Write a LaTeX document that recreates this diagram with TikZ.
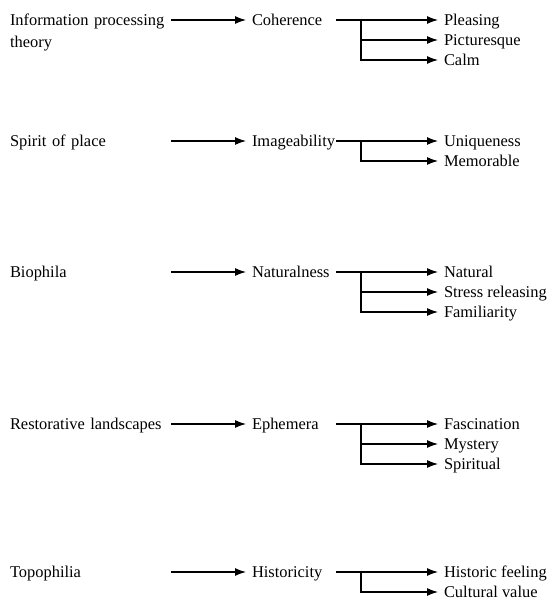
\documentclass[tikz,border=0pt]{standalone}
\usepackage{fontspec}
\setmainfont{Liberation Serif}
\usetikzlibrary{arrows.meta}

\tikzset{
  lbl/.style={inner sep=0pt, outer sep=0pt, anchor=west, text height=11.4bp, text depth=0pt,
    font=\fontsize{16.5}{21.5}\selectfont},
  src/.style={lbl, text width=161bp, align=left},
  mid/.style={lbl, text width=84bp, align=left},
  arr/.style={-{Latex[length=11bp,width=8bp]}, line width=1.1bp, shorten >=6bp},
}

\begin{document}
\begin{tikzpicture}[x=1bp,y=-1bp]
\useasboundingbox (0,0) rectangle (552,600);

% Information processing theory
\node[src] (info) at (10,20) {Information processing\\theory};
\node[mid] (coh) at (252,20) {Coherence};
\node[lbl] (pleasing) at (444,20) {Pleasing};
\node[lbl] (pictur) at (444,40) {Picturesque};
\node[lbl] (calm) at (444,60) {Calm};
\draw[arr] (info.east |- coh.west) -- (coh.west);
\draw[arr] (coh.east) -- (pleasing.west);
\draw[arr] (coh.east) ++(25,0) |- (pictur.west);
\draw[arr] (coh.east) ++(25,0) |- (calm.west);

% Spirit of place
\node[src] (spirit) at (10,141) {Spirit of place};
\node[mid] (image) at (252,141) {Imageability};
\node[lbl] (unique) at (444,141) {Uniqueness};
\node[lbl] (memo) at (444,161) {Memorable};
\draw[arr] (spirit.east |- image.west) -- (image.west);
\draw[arr] (image.east) -- (unique.west);
\draw[arr] (image.east) ++(25,0) |- (memo.west);

% Biophila
\node[src] (bio) at (10,272) {Biophila};
\node[mid] (natness) at (252,272) {Naturalness};
\node[lbl] (natural) at (444,272) {Natural};
\node[lbl] (stress) at (444,292) {Stress releasing};
\node[lbl] (famil) at (444,312) {Familiarity};
\draw[arr] (bio.east |- natness.west) -- (natness.west);
\draw[arr] (natness.east) -- (natural.west);
\draw[arr] (natness.east) ++(25,0) |- (stress.west);
\draw[arr] (natness.east) ++(25,0) |- (famil.west);

% Restorative landscapes
\node[src] (resto) at (10,424) {Restorative landscapes};
\node[mid] (ephem) at (252,424) {Ephemera};
\node[lbl] (fasc) at (444,424) {Fascination};
\node[lbl] (myst) at (444,444) {Mystery};
\node[lbl] (spirit2) at (444,464) {Spiritual};
\draw[arr] (resto.east |- ephem.west) -- (ephem.west);
\draw[arr] (ephem.east) -- (fasc.west);
\draw[arr] (ephem.east) ++(25,0) |- (myst.west);
\draw[arr] (ephem.east) ++(25,0) |- (spirit2.west);

% Topophilia
\node[src] (topo) at (10,572) {Topophilia};
\node[mid] (histy) at (252,572) {Historicity};
\node[lbl] (histf) at (444,572) {Historic feeling};
\node[lbl] (cultv) at (444,592) {Cultural value};
\draw[arr] (topo.east |- histy.west) -- (histy.west);
\draw[arr] (histy.east) -- (histf.west);
\draw[arr] (histy.east) ++(25,0) |- (cultv.west);
\end{tikzpicture}
\end{document}
